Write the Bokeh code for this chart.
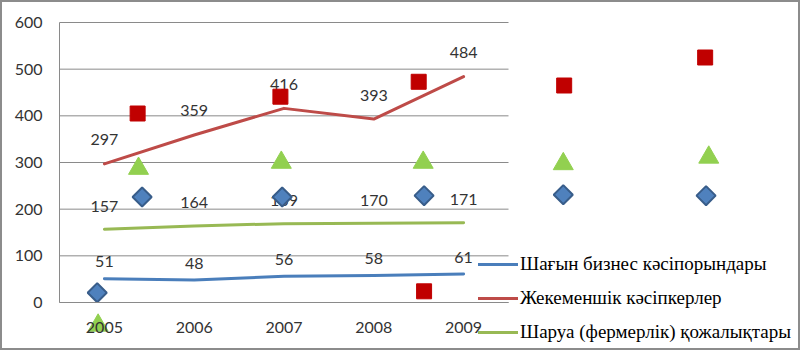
from bokeh.plotting import figure
from bokeh.models import Range1d, FixedTicker, Legend, LegendItem, LinearAxis
from bokeh.embed import file_html
from bokeh.resources import INLINE
from bokeh.core.properties import value
import math

# ---------------- data ----------------
years = [2005, 2006, 2007, 2008, 2009]
small_business = [51, 48, 56, 58, 61]
private_entrepreneurs = [297, 359, 416, 393, 484]
farms = [157, 164, 169, 170, 171]
series_names = [
    "Шағын бизнес кәсіпорындары",
    "Жекеменшік кәсіпкерлер",
    "Шаруа (фермерлік) қожалықтары",
]
y_ticks = [0, 100, 200, 300, 400, 500, 600]

# stray marker series of the original chart (x read on the year scale)
diamond_x = [2004.92, 2005.42, 2006.98, 2008.56, 2010.11, 2011.70]
diamond_y = [21, 226, 226, 229, 231, 229]
square_x = [2005.37, 2006.96, 2008.50, 2008.56, 2010.12, 2011.69]
square_y = [405, 441, 473, 24, 465, 525]
triangle_x = [2004.93, 2005.38, 2006.97, 2008.55, 2010.11, 2011.73]
triangle_y = [-49, 287, 300, 300, 297, 311]

# ---------------- styles ----------------
FONT = "Lato"
LBL = "#333333"
GRID = "#8a8a8a"
BLUE, RED, GREEN = "#4A7EBB", "#BE4B48", "#98B954"

W, H = 800, 350
left_px, cat_px = 59, 89.8
top_px, zero_px = 22, 302
ppu = (zero_px - top_px) / 600.0
x0 = years[0] - 0.5 - left_px / cat_px
x1 = x0 + W / cat_px
y1 = 600 + top_px / ppu
y0 = -(H - zero_px) / ppu

p = figure(width=W, height=H, output_backend="svg", toolbar_location=None,
           x_range=Range1d(x0, x1), y_range=Range1d(y0, y1),
           x_axis_type=None, y_axis_type=None)
p.min_border = 0
p.title.visible = False
p.xgrid.visible = False
p.ygrid.visible = False
p.background_fill_color = "white"
p.border_fill_color = "white"
p.outline_line_color = "#8c8c8c"
p.outline_line_width = 3

# gridlines limited to the category area
xa, xb = years[0] - 0.5, years[-1] + 0.5
p.segment(x0=[xa] * len(y_ticks), x1=[xb] * len(y_ticks), y0=y_ticks, y1=y_ticks,
          line_color=GRID, line_width=1)

yax = LinearAxis(fixed_location=xa, bounds=(y_ticks[0], y_ticks[-1]),
                 ticker=FixedTicker(ticks=y_ticks))
yax.axis_line_color = GRID
yax.major_tick_line_color = None
yax.minor_tick_line_color = None
yax.major_tick_out = 0
yax.major_label_standoff = 17
yax.major_label_text_font = FONT
yax.major_label_text_font_size = "16px"
yax.major_label_text_color = LBL
p.add_layout(yax, "left")

xax = LinearAxis(fixed_location=0, bounds=(xa, xb), ticker=FixedTicker(ticks=years))
xax.axis_line_color = GRID
xax.major_tick_line_color = None
xax.minor_tick_line_color = None
xax.major_tick_out = 0
xax.major_label_standoff = 19
xax.major_label_text_font = FONT
xax.major_label_text_font_size = "16px"
xax.major_label_text_color = LBL
p.add_layout(xax, "below")

# lines
r_blue = p.line(years, small_business, line_color=BLUE, line_width=3, line_cap="round", line_join="round")
r_red = p.line(years, private_entrepreneurs, line_color=RED, line_width=3, line_cap="round", line_join="round")
r_green = p.line(years, farms, line_color=GREEN, line_width=3, line_cap="round", line_join="round")

# data labels
for vals, off in ((small_business, -17), (private_entrepreneurs, -24), (farms, -23)):
    p.text(x=years, y=vals, text=[str(v) for v in vals], y_offset=off,
           text_font=value(FONT), text_font_size="16px", text_color=LBL,
           text_align="center", text_baseline="middle")

# stray markers
p.scatter(diamond_x, diamond_y, marker="square", size=13.5, angle=math.pi / 4,
          fill_color="#4F81BD", line_color="#385D8A", line_width=2)
p.scatter(square_x, square_y, marker="square", size=15,
          fill_color="#C00000", line_color="#C00000", line_width=1)
p.scatter(triangle_x, triangle_y, marker="triangle", size=20,
          fill_color="#92D050", line_color="#92D050", line_width=1)

legend = Legend(items=[LegendItem(label=series_names[0], renderers=[r_blue]),
                       LegendItem(label=series_names[1], renderers=[r_red]),
                       LegendItem(label=series_names[2], renderers=[r_green])],
                location=(478, 7), orientation="vertical")
legend.padding = 0
legend.margin = 0
legend.spacing = 12
legend.glyph_width = 40
legend.glyph_height = 22
legend.label_height = 22
legend.label_standoff = 2
legend.border_line_color = None
legend.background_fill_alpha = 0
legend.label_text_font = "Liberation Serif"
legend.label_text_font_size = "19px"
legend.label_text_color = "black"
p.add_layout(legend, "center")

open("out.html", "w").write(file_html(p, INLINE))
